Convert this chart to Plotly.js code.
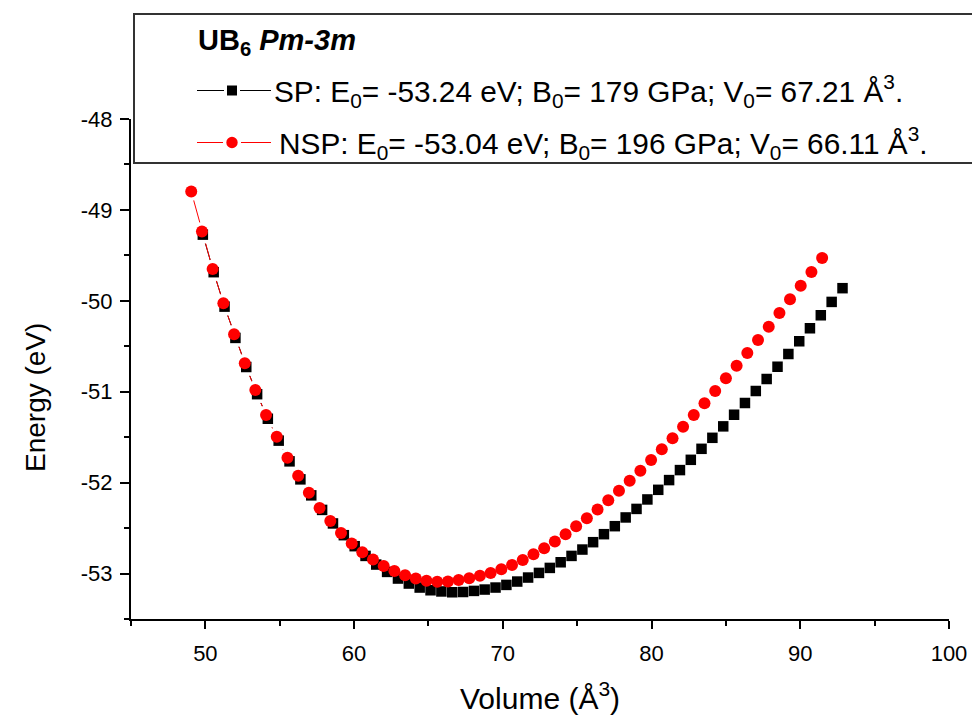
<!DOCTYPE html>
<html>
<head>
<meta charset="utf-8">
<script src="https://cdn.plot.ly/plotly-3.0.1.min.js"></script>
<style>
html,body{margin:0;padding:0;background:#ffffff;}
#chart{width:972px;height:716px;}
</style>
</head>
<body>
<div id="chart"></div>
<script>
// ---- data ----
const spVolume = [49.83,50.56,51.29,52.02,52.75,53.48,54.20,54.93,55.66,56.39,
  57.12,57.85,58.58,59.31,60.04,60.77,61.49,62.22,62.95,63.68,
  64.41,65.14,65.87,66.60,67.33,68.06,68.78,69.51,70.24,70.97,
  71.70,72.43,73.16,73.89,74.62,75.35,76.07,76.80,77.53,78.26,
  78.99,79.72,80.45,81.18,81.91,82.64,83.36,84.09,84.82,85.55,
  86.28,87.01,87.74,88.47,89.20,89.93,90.65,91.38,92.11,92.84];
const spEnergy = [-49.272,-49.685,-50.064,-50.408,-50.728,-51.027,-51.297,-51.538,-51.766,-51.964,
  -52.140,-52.300,-52.449,-52.578,-52.699,-52.806,-52.901,-52.982,-53.055,-53.110,
  -53.154,-53.184,-53.197,-53.206,-53.203,-53.191,-53.176,-53.154,-53.125,-53.088,
  -53.044,-52.993,-52.938,-52.876,-52.806,-52.736,-52.655,-52.567,-52.479,-52.383,
  -52.289,-52.185,-52.079,-51.972,-51.862,-51.749,-51.628,-51.507,-51.381,-51.253,
  -51.124,-50.992,-50.860,-50.725,-50.585,-50.445,-50.302,-50.159,-50.012,-49.861];
const nspVolume = [49.05,49.77,50.49,51.21,51.93,52.65,53.36,54.08,54.80,55.52,
  56.24,56.96,57.68,58.40,59.12,59.84,60.55,61.27,61.99,62.71,
  63.43,64.15,64.87,65.59,66.31,67.03,67.74,68.46,69.18,69.90,
  70.62,71.34,72.06,72.78,73.50,74.22,74.93,75.65,76.37,77.09,
  77.81,78.53,79.25,79.97,80.69,81.41,82.12,82.84,83.56,84.28,
  85.00,85.72,86.44,87.16,87.88,88.60,89.31,90.03,90.75,91.47];
const nspEnergy = [-48.797,-49.238,-49.649,-50.026,-50.368,-50.687,-50.981,-51.257,-51.496,-51.727,
  -51.925,-52.112,-52.278,-52.422,-52.553,-52.670,-52.767,-52.845,-52.918,-52.973,
  -53.019,-53.054,-53.078,-53.089,-53.088,-53.072,-53.052,-53.025,-52.993,-52.954,
  -52.905,-52.850,-52.787,-52.721,-52.648,-52.567,-52.479,-52.391,-52.295,-52.193,
  -52.090,-51.980,-51.870,-51.752,-51.634,-51.513,-51.385,-51.257,-51.128,-50.992,
  -50.852,-50.714,-50.574,-50.431,-50.284,-50.133,-49.982,-49.833,-49.682,-49.528];

const xTickVals = [50,60,70,80,90,100];
const xTickText = ['50','60','70','80','90','100'];
const xMinorVals = [45,55,65,75,85,95];
const yTickVals = [-53,-52,-51,-50,-49,-48];
const yTickText = ['-53','-52','-51','-50','-49','-48'];
const yMinorVals = [-53.5,-52.5,-51.5,-50.5,-49.5,-48.5];

const legendTitle = '<b>UB<sub>6</sub> <i>Pm-3m</i></b>';
const spLabel = 'SP: E<sub>0</sub>= -53.24 eV; B<sub>0</sub>= 179 GPa; V<sub>0</sub>= 67.21 Å<sup>3</sup>.';
const nspLabel = 'NSP: E<sub>0</sub>= -53.04 eV; B<sub>0</sub>= 196 GPa; V<sub>0</sub>= 66.11 Å<sup>3</sup>.';
const xTitle = 'Volume (Å<sup>3</sup>)';
const yTitle = 'Energy (eV)';

// ---- geometry ----
const W = 972, H = 716;
const M = {l: 131, r: 23, t: 119, b: 97};
const PW = W - M.l - M.r, PH = H - M.t - M.b;
const px = x => (x - M.l) / PW;
const py = y => (H - M.b - y) / PH;
const FONT = 'Liberation Sans, Arial, Helvetica, sans-serif';

const SQ = 10.5, CI = 12, GAP = 7;

const traces = [
  {x: spVolume, y: spEnergy, mode: 'lines', line: {color: '#000000', width: 1}, hoverinfo: 'skip'},
  {x: nspVolume, y: nspEnergy, mode: 'lines', line: {color: '#ff0000', width: 1}, hoverinfo: 'skip'},
  {x: spVolume, y: spEnergy, mode: 'markers', marker: {symbol: 'square', size: SQ + GAP, color: '#ffffff', line: {width: 0}}, hoverinfo: 'skip'},
  {x: nspVolume, y: nspEnergy, mode: 'markers', marker: {symbol: 'circle', size: CI + GAP, color: '#ffffff', line: {width: 0}}, hoverinfo: 'skip'},
  {x: spVolume, y: spEnergy, mode: 'markers', name: 'SP', marker: {symbol: 'square', size: SQ, color: '#000000', line: {width: 0}}},
  {x: nspVolume, y: nspEnergy, mode: 'markers', name: 'NSP', marker: {symbol: 'circle', size: CI, color: '#ff0000', line: {width: 0}}}
];

const axisCommon = {
  showline: true, linecolor: '#000000', linewidth: 2,
  ticks: 'outside', tickwidth: 2, tickcolor: '#000000',
  showgrid: false, zeroline: false,
  tickfont: {family: FONT, size: 22, color: '#000000'},
  tickmode: 'array'
};

const row1 = 90.5, row2 = 142.5, symX = 232;
const shapes = [
  {type: 'rect', xref: 'paper', yref: 'paper', x0: px(134), x1: px(1000), y0: py(163), y1: py(14),
   line: {color: '#333333', width: 2}, fillcolor: '#ffffff', layer: 'above'},
  {type: 'line', xref: 'paper', yref: 'paper', x0: px(197), x1: px(symX - 8), y0: py(row1), y1: py(row1), line: {color: '#000000', width: 1}},
  {type: 'line', xref: 'paper', yref: 'paper', x0: px(symX + 8), x1: px(271), y0: py(row1), y1: py(row1), line: {color: '#000000', width: 1}},
  {type: 'rect', xref: 'paper', yref: 'paper', x0: px(symX - 5), x1: px(symX + 5), y0: py(row1 + 5), y1: py(row1 - 5),
   line: {width: 0}, fillcolor: '#000000'},
  {type: 'line', xref: 'paper', yref: 'paper', x0: px(197), x1: px(symX - 9), y0: py(row2), y1: py(row2), line: {color: '#ff0000', width: 1}},
  {type: 'line', xref: 'paper', yref: 'paper', x0: px(symX + 9), x1: px(271), y0: py(row2), y1: py(row2), line: {color: '#ff0000', width: 1}},
  {type: 'circle', xref: 'paper', yref: 'paper', x0: px(symX - 5.7), x1: px(symX + 5.7), y0: py(row2 + 5.7), y1: py(row2 - 5.7),
   line: {width: 0}, fillcolor: '#ff0000'}
];

const annotations = [
  {xref: 'paper', yref: 'paper', x: px(196), y: py(42), xanchor: 'left', yanchor: 'middle', showarrow: false,
   text: legendTitle, font: {family: FONT, size: 29, color: '#000000'}},
  {xref: 'paper', yref: 'paper', x: px(272), y: py(91), xanchor: 'left', yanchor: 'middle', showarrow: false,
   text: spLabel, font: {family: FONT, size: 29.8, color: '#000000'}},
  {xref: 'paper', yref: 'paper', x: px(277), y: py(143), xanchor: 'left', yanchor: 'middle', showarrow: false,
   text: nspLabel, font: {family: FONT, size: 29.8, color: '#000000'}},
  {xref: 'paper', yref: 'paper', x: px(540), y: py(696), xanchor: 'center', yanchor: 'middle', showarrow: false,
   text: xTitle, font: {family: FONT, size: 30, color: '#000000'}},
  {xref: 'paper', yref: 'paper', x: px(35), y: py(398), xanchor: 'center', yanchor: 'middle', showarrow: false, textangle: -90,
   text: yTitle, font: {family: FONT, size: 28, color: '#000000'}}
];

const layout = {
  width: W, height: H,
  margin: M,
  paper_bgcolor: '#ffffff', plot_bgcolor: '#ffffff',
  showlegend: false,
  font: {family: FONT, color: '#000000'},
  xaxis: Object.assign({}, axisCommon, {
    range: [45, 100], tickvals: xTickVals, ticktext: xTickText, ticklen: 8, ticklabelstandoff: 6,
    minor: {tickmode: 'array', tickvals: xMinorVals, ticks: 'outside', ticklen: 5, tickwidth: 2, tickcolor: '#000000', showgrid: false}
  }),
  yaxis: Object.assign({}, axisCommon, {
    range: [-53.5, -48], tickvals: yTickVals, ticktext: yTickText, ticklen: 9, ticklabelstandoff: 3,
    minor: {tickmode: 'array', tickvals: yMinorVals, ticks: 'outside', ticklen: 5, tickwidth: 2, tickcolor: '#000000', showgrid: false}
  }),
  shapes: shapes,
  annotations: annotations
};

Plotly.newPlot('chart', traces, layout, {displayModeBar: false, staticPlot: true});
</script>
</body>
</html>
